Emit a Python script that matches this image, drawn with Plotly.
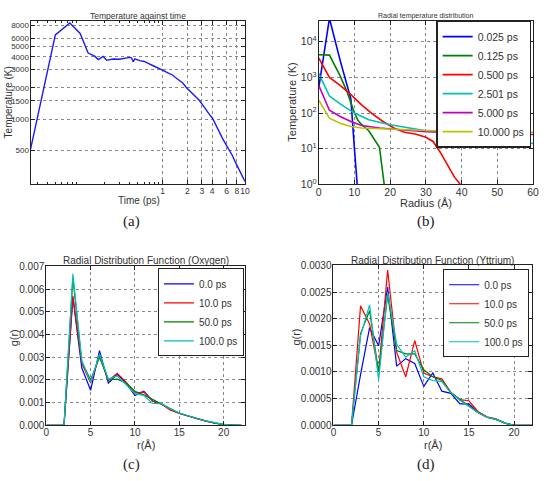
import plotly.graph_objects as go

W, H = 546, 481

# ---------------- (a) Temperature against time ----------------
time_ps = [0.025, 0.05, 0.075, 0.1, 0.125, 0.15, 0.166, 0.19, 0.21, 0.25, 0.3, 0.36,
           0.4, 0.42, 0.44, 0.46, 0.53, 0.6, 0.64, 0.7, 0.76, 0.85, 1.0, 1.1, 1.2,
           1.33, 1.5, 1.76, 1.93, 2.1, 2.32, 2.55, 2.79, 3.05, 3.36, 3.7, 4.04, 4.4,
           4.86, 5.3, 5.85, 6.4, 7.03, 7.7, 8.47, 9.2, 10.0]
temp_K = [510, 6500, 8470, 6700, 4340, 4050, 3750, 4030, 3690, 3800, 3780, 3890,
          3940, 3900, 3570, 3820, 3660, 3600, 3490, 3400, 3290, 3170, 2970, 2850, 2750,
          2650, 2450, 2230, 2030, 1900, 1780, 1640, 1520, 1380, 1220, 1110, 1020, 884,
          760, 660, 573, 510, 446, 380, 322, 285, 250]
a_xticks = [1, 2, 3, 4, 6, 8, 10]
a_yticks = [500, 1000, 1500, 2000, 3000, 4000, 5000, 6000, 8000]

# ---------------- (b) Radial temperature distribution ----------------
b_labels = ["0.025 ps", "0.125 ps", "0.500 ps", "2.501 ps", "5.000 ps", "10.000 ps"]
b_colors = ["#0000ff", "#008000", "#ff0000", "#00bfbf", "#bf00bf", "#bfbf00"]
b_r_0025 = [0, 3, 6, 9, 10, 11]
b_T_0025 = [500, 45000, 3000, 250, 10, 0.5]
b_r_0125 = [0, 3, 6, 8, 10, 11, 12, 14, 17, 18, 19]
b_T_0125 = [4300, 4200, 1100, 380, 100, 62, 48, 32, 11, 2, 0.3]
b_r_0500 = [0, 3, 6, 9, 12, 15, 18, 21, 24, 27, 30, 32, 34, 36, 38, 40]
b_T_0500 = [3500, 1000, 600, 330, 170, 95, 58, 38, 29, 26, 21, 16, 8, 3.5, 1.6, 0.9]
b_r_2501 = [0, 3, 6, 10, 14, 20, 30, 40, 50, 60]
b_T_2501 = [1300, 300, 180, 100, 65, 47, 32, 27, 20, 14]
b_r_5000 = [0, 3, 6, 9, 12, 17, 23, 30, 40, 50, 60]
b_T_5000 = [600, 120, 80, 58, 45, 38, 34, 30, 28, 26, 25]
b_r_10000 = [0, 3, 6, 9, 12, 15, 20, 30, 40, 50, 60]
b_T_10000 = [230, 72, 52, 42, 38, 37, 35, 32, 30, 29.5, 29]
b_series_r = [b_r_0025, b_r_0125, b_r_0500, b_r_2501, b_r_5000, b_r_10000]
b_series_T = [b_T_0025, b_T_0125, b_T_0500, b_T_2501, b_T_5000, b_T_10000]
b_ytickvals = [1, 10, 100, 1000, 10000]
b_yticktext = ["10<sup>0</sup>", "10<sup>1</sup>", "10<sup>2</sup>", "10<sup>3</sup>", "10<sup>4</sup>"]

# ---------------- (c) RDF Oxygen / (d) RDF Yttrium ----------------
rdf_r = list(range(0, 23))
rdf_labels = ["0.0 ps", "10.0 ps", "50.0 ps", "100.0 ps"]
rdf_colors = ["#0000ff", "#ff0000", "#008000", "#00bfbf"]

ox_0 = [0, 0, 0, 0.00564, 0.00253, 0.00154, 0.00329, 0.00186, 0.00224, 0.00186, 0.00131,
        0.00150, 0.00107, 0.00093, 0.00071, 0.00053, 0.00040, 0.00029, 0.00018, 0.00009,
        0.00003, 0, 0]
ox_10 = [0, 0, 0, 0.00570, 0.00274, 0.00186, 0.00307, 0.00197, 0.00229, 0.00190, 0.00143,
         0.00146, 0.00107, 0.00093, 0.00066, 0.00052, 0.00040, 0.00029, 0.00018, 0.00009,
         0.00003, 0, 0]
ox_50 = [0, 0, 0, 0.00650, 0.00279, 0.00200, 0.00300, 0.00200, 0.00203, 0.00186, 0.00150,
         0.00134, 0.00114, 0.00093, 0.00071, 0.00053, 0.00041, 0.00030, 0.00019, 0.00009,
         0.00003, 0, 0]
ox_100 = [0, 0, 0, 0.00667, 0.00286, 0.00189, 0.00314, 0.00203, 0.00217, 0.00179, 0.00139,
          0.00131, 0.00096, 0.00095, 0.00072, 0.00054, 0.00041, 0.00030, 0.00019, 0.00010,
          0.00004, 0, 0]

y_0 = [0, 0, 0, 0.00095, 0.00183, 0.00149, 0.00259, 0.00111, 0.00125, 0.00116, 0.00073,
       0.00098, 0.00064, 0.00060, 0.00040, 0.00040, 0.00024, 0.00015, 0.00011, 0.00004,
       0, 0, 0]
y_10 = [0, 0, 0, 0.00224, 0.00190, 0.00100, 0.00291, 0.00137, 0.00091, 0.00159, 0.00098,
        0.00091, 0.00087, 0.00062, 0.00048, 0.00046, 0.00026, 0.00016, 0.00012, 0.00004,
        0, 0, 0]
y_50 = [0, 0, 0, 0.00172, 0.00215, 0.00100, 0.00244, 0.00140, 0.00134, 0.00134, 0.00104,
        0.00091, 0.00084, 0.00061, 0.00049, 0.00037, 0.00024, 0.00015, 0.00011, 0.00004,
        0, 0, 0]
y_100 = [0, 0, 0, 0.00168, 0.00226, 0.00085, 0.00250, 0.00152, 0.00128, 0.00140, 0.00091,
         0.00084, 0.00082, 0.00061, 0.00047, 0.00035, 0.00024, 0.00015, 0.00011, 0.00004,
         0, 0, 0]
ox_series = [ox_0, ox_10, ox_50, ox_100]
yt_series = [y_0, y_10, y_50, y_100]


def fx(px):
    return px / W


def fy(py):
    return 1 - py / H


FONT = "Liberation Sans, Arial, sans-serif"
TXT = "#333333"

fig = go.Figure()

# (a)
fig.add_trace(go.Scatter(x=time_ps, y=temp_K, mode="lines", xaxis="x", yaxis="y",
                         line=dict(color="#1a1aff", width=1.4), showlegend=False))

# (b)
for r, T, lab, col in zip(b_series_r, b_series_T, b_labels, b_colors):
    fig.add_trace(go.Scatter(x=r, y=T, mode="lines", xaxis="x2", yaxis="y2", name=lab,
                             line=dict(color=col, width=1.6), legend="legend"))

# (c)
for vals, lab, col in zip(ox_series, rdf_labels, rdf_colors):
    fig.add_trace(go.Scatter(x=rdf_r, y=vals, mode="lines", xaxis="x3", yaxis="y3", name=lab,
                             line=dict(color=col, width=1.2), legend="legend2"))
# (d)
for vals, lab, col in zip(yt_series, rdf_labels, rdf_colors):
    fig.add_trace(go.Scatter(x=rdf_r, y=vals, mode="lines", xaxis="x4", yaxis="y4", name=lab,
                             line=dict(color=col, width=1.2), legend="legend3"))


def ax(xdir=True, **kw):
    base = dict(showline=True, linecolor="#222222", linewidth=1, mirror="ticks",
                ticks="inside", ticklen=4, tickcolor="#222222", tickwidth=1,
                showgrid=True, gridcolor="#888888", griddash="dot", gridwidth=0.8,
                zeroline=False, tickangle=0,
                ticklabelstandoff=-2 if xdir else -1,
                tickfont=dict(family=FONT, size=10, color=TXT))
    base.update(kw)
    return base


a_minor_x = [0.03, 0.04, 0.05, 0.06, 0.07, 0.08, 0.09, 0.2, 0.3, 0.4, 0.5, 0.6, 0.7, 0.8, 0.9]
fig.update_layout(
    width=W, height=H, margin=dict(l=0, r=0, t=0, b=0), autosize=False,
    paper_bgcolor="white", plot_bgcolor="white",
    font=dict(family=FONT, color=TXT),
    xaxis=ax(True, type="log", domain=[fx(28), fx(246)], anchor="y",
             range=[-1.602, 1.0], tickmode="array", tickvals=a_xticks,
             ticktext=[str(v) for v in a_xticks], tickfont=dict(family=FONT, size=8.5, color=TXT),
             minor=dict(ticks="inside", ticklen=2, tickcolor="#222222", tickmode="array",
                        tickvals=a_minor_x, showgrid=False)),
    yaxis=ax(False, type="log", domain=[fy(183), fy(15)], anchor="x",
             range=[2.37, 3.95], tickmode="array", tickvals=a_yticks,
             ticktext=[str(v) for v in a_yticks], tickfont=dict(family=FONT, size=8, color=TXT)),
    xaxis2=ax(True, domain=[fx(321), fx(539)], anchor="y2", range=[0, 60], tickmode="array",
              tickvals=[0, 10, 20, 30, 40, 50, 60], tickfont=dict(family=FONT, size=10.5, color=TXT)),
    yaxis2=ax(False, type="log", domain=[fy(183), fy(15)], anchor="x2", range=[0, 4.59],
              tickmode="array", tickvals=b_ytickvals, ticktext=b_yticktext,
              tickfont=dict(family=FONT, size=10.5, color=TXT)),
    xaxis3=ax(True, domain=[fx(44), fx(246)], anchor="y3", range=[0, 22.4], tickmode="array",
              tickvals=[0, 5, 10, 15, 20]),
    yaxis3=ax(False, domain=[fy(430), fy(267)], anchor="x3", range=[0, 0.007], tickmode="array",
              tickvals=[0, 0.001, 0.002, 0.003, 0.004, 0.005, 0.006, 0.007],
              ticktext=["0.000", "0.001", "0.002", "0.003", "0.004", "0.005", "0.006", "0.007"]),
    xaxis4=ax(True, domain=[fx(336), fx(538)], anchor="y4", range=[0, 22], tickmode="array",
              tickvals=[0, 5, 10, 15, 20]),
    yaxis4=ax(False, domain=[fy(430), fy(266)], anchor="x4", range=[0, 0.003], tickmode="array",
              tickvals=[0, 0.0005, 0.001, 0.0015, 0.002, 0.0025, 0.003],
              ticktext=["0.0000", "0.0005", "0.0010", "0.0015", "0.0020", "0.0025", "0.0030"]),
    legend=dict(x=fx(537), y=fy(15), xanchor="right", yanchor="top", bgcolor="white",
                bordercolor="#222222", borderwidth=1.5, itemwidth=30,
                font=dict(family=FONT, size=10.5, color=TXT)),
    legend2=dict(x=fx(245), y=fy(269), xanchor="right", yanchor="top", bgcolor="white",
                 bordercolor="#222222", borderwidth=1, itemwidth=30,
                 font=dict(family=FONT, size=10, color=TXT)),
    legend3=dict(x=fx(535), y=fy(270), xanchor="right", yanchor="top", bgcolor="white",
                 bordercolor="#222222", borderwidth=1, itemwidth=30,
                 font=dict(family=FONT, size=10, color=TXT)),
)

SERIF = "Liberation Serif, Times New Roman, serif"
notes = [
    ("Temperature against time", 137, 10, 8.5, 0, FONT),
    ("Radial temperature distribution", 430, 10, 7, 0, FONT),
    ("Radial Distribution Function (Oxygen)", 145, 261, 10, 0, FONT),
    ("Radial Distribution Function (Yttrium)", 437, 261, 10, 0, FONT),
    ("Time (ps)", 138, 199, 10, 0, FONT),
    ("Temperature (K)", 6, 99, 10, -90, FONT),
    ("Radius (Å)", 430, 202, 11, 0, FONT),
    ("Temperature (K)", 293, 99, 11, -90, FONT),
    ("r(Å)", 145, 450, 11, 0, FONT),
    ("g(r)", 11, 340, 11, -90, FONT),
    ("r(Å)", 437, 450, 11, 0, FONT),
    ("g(r)", 297, 340, 11, -90, FONT),
    ("(a)", 131, 221, 15, 0, SERIF),
    ("(b)", 430, 221, 15, 0, SERIF),
    ("(c)", 131, 470, 15, 0, SERIF),
    ("(d)", 430, 470, 15, 0, SERIF),
]
for text, px, py, size, ang, fam in notes:
    fig.add_annotation(text=text, x=fx(px), y=fy(py), xref="paper", yref="paper",
                       xanchor="center", yanchor="middle", showarrow=False, textangle=ang,
                       font=dict(family=fam, size=size, color="#222222" if fam == SERIF else TXT))

fig.write_html("out.html")
